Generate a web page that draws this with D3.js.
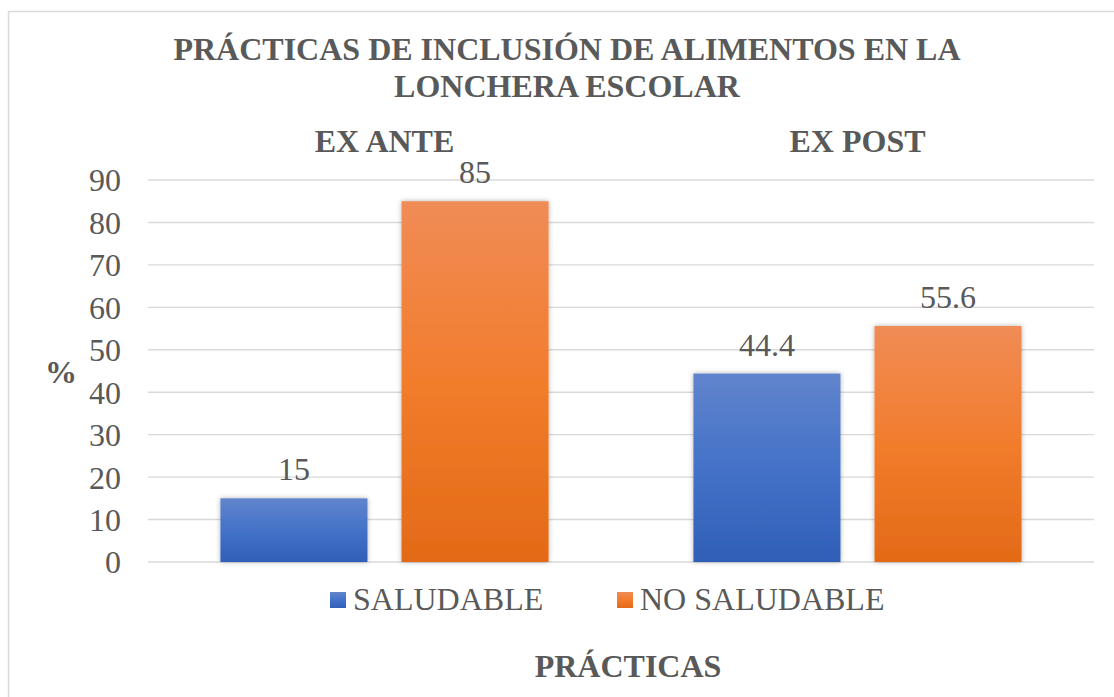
<!DOCTYPE html>
<html><head><meta charset="utf-8">
<script src="https://cdn.jsdelivr.net/npm/d3@7"></script>
<style>
html,body{margin:0;padding:0;background:#fff;}
svg{display:block;}
text{font-family:"Liberation Serif","Times New Roman",serif;fill:#595959;}
</style></head>
<body>
<script>
const titleLines = ["PRÁCTICAS DE INCLUSIÓN DE ALIMENTOS EN LA", "LONCHERA ESCOLAR"];
const groups = ["EX ANTE", "EX POST"];
const series = ["SALUDABLE", "NO SALUDABLE"];
const saludable = [15, 44.4];
const noSaludable = [85, 55.6];
const yTicks = [0, 10, 20, 30, 40, 50, 60, 70, 80, 90];
const yLabel = "%";
const xLabel = "PRÁCTICAS";

const W = 1114, H = 697;
const svg = d3.select("body").append("svg").attr("width", W).attr("height", H);

const defs = svg.append("defs");
const gradBlue = defs.append("linearGradient").attr("id","gBlue").attr("x1",0).attr("y1",0).attr("x2",0).attr("y2",1);
gradBlue.append("stop").attr("offset","0%").attr("stop-color","#6184cc");
gradBlue.append("stop").attr("offset","50%").attr("stop-color","#4472c8");
gradBlue.append("stop").attr("offset","100%").attr("stop-color","#2f5fb7");
const gradOr = defs.append("linearGradient").attr("id","gOr").attr("x1",0).attr("y1",0).attr("x2",0).attr("y2",1);
gradOr.append("stop").attr("offset","0%").attr("stop-color","#f08c56");
gradOr.append("stop").attr("offset","50%").attr("stop-color","#f27c2c");
gradOr.append("stop").attr("offset","100%").attr("stop-color","#e36a17");
const flt = defs.append("filter").attr("id","shadow").attr("x","-10%").attr("y","-10%").attr("width","120%").attr("height","120%");
flt.append("feDropShadow").attr("dx",0).attr("dy",0).attr("stdDeviation",2.5).attr("flood-color","#000").attr("flood-opacity",0.3);

const fills = ["url(#gBlue)", "url(#gOr)"];

// chart border
svg.append("rect").attr("x",8.5).attr("y",11.5).attr("width",W+10).attr("height",H+10)
  .attr("fill","none").attr("stroke","#d9d9d9").attr("stroke-width",1.5);

const plot = {left:148, right:1094, top:180, bottom:562};

const y = d3.scaleLinear().domain([0,90]).range([plot.bottom, plot.top]);
const x0 = d3.scaleBand().domain(groups).range([plot.left, plot.right]).padding(0);
const x1 = d3.scaleBand().domain(series).range([0, x0.bandwidth()]).paddingInner(0.188).paddingOuter(0.4);

// gridlines
svg.append("g").selectAll("line").data(yTicks).join("line")
  .attr("x1",plot.left).attr("x2",plot.right)
  .attr("y1",d=>y(d)).attr("y2",d=>y(d))
  .attr("stroke","#d9d9d9").attr("stroke-width",1.4);

// y axis labels
const yAxis = d3.axisLeft(y).tickValues(yTicks).tickSize(0).tickPadding(0).tickFormat(d3.format("d"));
const ya = svg.append("g").attr("transform",`translate(${plot.left-27},0)`).call(yAxis);
ya.select(".domain").remove();
ya.selectAll("text").attr("font-family","Liberation Serif").attr("font-size",32).attr("fill","#595959").attr("dy","0.34em");

// bars
const data = groups.map((g,i)=>({group:g, values:[saludable[i], noSaludable[i]]}));
const gg = svg.append("g").selectAll("g").data(data).join("g")
  .attr("transform",d=>`translate(${x0(d.group)},0)`);
gg.selectAll("rect").data(d=>d.values.map((v,j)=>({s:series[j], v, j}))).join("rect")
  .attr("x",d=>x1(d.s)).attr("width",x1.bandwidth())
  .attr("y",d=>y(d.v)).attr("height",d=>y(0)-y(d.v))
  .attr("fill",d=>fills[d.j]).attr("filter","url(#shadow)");
gg.selectAll("text.val").data(d=>d.values.map((v,j)=>({s:series[j], v, j}))).join("text")
  .attr("class","val")
  .attr("x",d=>x1(d.s)+x1.bandwidth()/2).attr("y",d=>y(d.v)-18)
  .attr("text-anchor","middle").attr("font-size",32).text(d=>d.v);

// group labels on top
svg.append("g").selectAll("text").data(groups).join("text")
  .attr("x",d=>x0(d)+x0.bandwidth()/2).attr("y",152)
  .attr("text-anchor","middle").attr("font-size",32).attr("font-weight","bold").text(d=>d);

// title
svg.append("g").selectAll("text").data(titleLines).join("text")
  .attr("x",567).attr("y",(d,i)=>60+i*37)
  .attr("text-anchor","middle").attr("font-size",32).attr("font-weight","bold").text(d=>d);

// y label
svg.append("text").attr("x",61).attr("y",383).attr("text-anchor","middle")
  .attr("font-size",32).attr("font-weight","bold").text(yLabel);

// legend
const legX = [330, 617];
const lg = svg.append("g").selectAll("g").data(series).join("g")
  .attr("transform",(d,i)=>`translate(${legX[i]},592)`);
lg.append("rect").attr("width",16).attr("height",16).attr("fill",(d,i)=>fills[i]);
lg.append("text").attr("x",23).attr("y",18).attr("font-size",32).text(d=>d);

// x label
svg.append("text").attr("x",628).attr("y",677).attr("text-anchor","middle")
  .attr("font-size",32).attr("font-weight","bold").text(xLabel);
</script>
</body></html>
